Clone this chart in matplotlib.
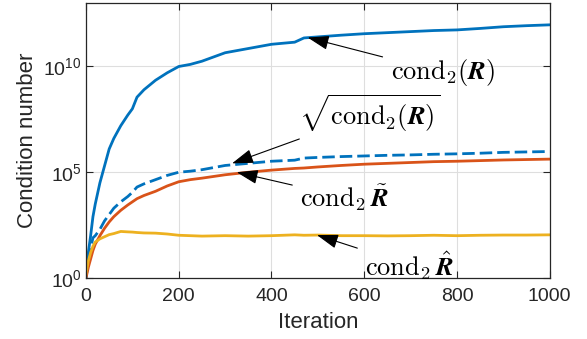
import numpy as np
import matplotlib
matplotlib.use("Agg")
import matplotlib.pyplot as plt
from matplotlib.ticker import FixedLocator, NullLocator

plt.rcParams['font.family'] = ['Liberation Sans', 'DejaVu Sans']
plt.rcParams['mathtext.fontset'] = 'custom'
plt.rcParams['mathtext.rm'] = 'cmr10'
plt.rcParams['mathtext.it'] = 'cmmi10'
plt.rcParams['mathtext.bf'] = 'cmb10'
plt.rcParams['mathtext.bfit'] = 'STIXGeneral:italic:bold'

# iteration samples and log10 of the condition numbers
iters = [0, 5, 10, 15, 20, 30, 40, 50, 60, 75, 90, 100, 110, 125, 150, 175, 200,
         225, 250, 275, 300, 350, 400, 450, 470, 500, 550, 600, 650, 700, 750,
         800, 850, 900, 950, 1000]
log_cond_R = [0, 1.2, 2.0, 2.9, 3.5, 4.5, 5.3, 6.1, 6.6, 7.2, 7.7, 8.0, 8.55, 8.9,
              9.35, 9.7, 10.0, 10.1, 10.25, 10.45, 10.65, 10.85, 11.05, 11.15,
              11.35, 11.4, 11.48, 11.55, 11.6, 11.65, 11.7, 11.73, 11.8, 11.88,
              11.93, 11.97]
log_sqrt_R = [0, 0.8, 1.4, 1.9, 2.0, 2.3, 2.7, 3.0, 3.3, 3.6, 3.85, 4.05, 4.3, 4.45,
              4.65, 4.85, 5.0, 5.05, 5.12, 5.22, 5.32, 5.42, 5.52, 5.57, 5.67, 5.7,
              5.74, 5.77, 5.8, 5.82, 5.85, 5.87, 5.9, 5.94, 5.96, 5.98]
log_tilde_R = [0, 0.5, 0.9, 1.3, 1.6, 2.0, 2.35, 2.65, 2.9, 3.2, 3.45, 3.6, 3.75,
               3.9, 4.1, 4.35, 4.55, 4.65, 4.72, 4.8, 4.88, 5.0, 5.1, 5.18, 5.2,
               5.25, 5.32, 5.38, 5.42, 5.46, 5.5, 5.52, 5.55, 5.58, 5.6, 5.62]
log_hat_R = [0.2, 0.8, 1.2, 1.5, 1.7, 1.85, 1.95, 2.05, 2.1, 2.2, 2.18, 2.17, 2.15,
             2.13, 2.12, 2.08, 2.02, 2.0, 1.98, 1.99, 2.0, 1.98, 2.0, 2.04, 2.02,
             2.03, 2.0, 2.0, 1.99, 2.0, 2.02, 2.0, 2.02, 2.03, 2.03, 2.04]

blue = '#0072BD'
orange = '#D95319'
yellow = '#EDB120'

fig = plt.figure(figsize=(5.87, 3.39), dpi=100)
ax = fig.add_axes([0.1465, 0.18, 0.79, 0.811])

x = np.array(iters)
ax.semilogy(x, 10.0 ** np.array(log_cond_R), color=blue, lw=2)
ax.semilogy(x, 10.0 ** np.array(log_sqrt_R), color=blue, lw=2, ls='--', dashes=(4.5, 1.8))
ax.semilogy(x, 10.0 ** np.array(log_tilde_R), color=orange, lw=2)
ax.semilogy(x, 10.0 ** np.array(log_hat_R), color=yellow, lw=2)

ax.set_xlim(0, 1000)
ax.set_ylim(1, 1e13)
ax.xaxis.set_major_locator(FixedLocator([0, 200, 400, 600, 800, 1000]))
ax.yaxis.set_major_locator(FixedLocator([1, 1e5, 1e10]))
ax.yaxis.set_minor_locator(NullLocator())
ax.tick_params(direction='in', length=5, width=0.8, top=True, right=True,
               labelsize=14, colors='0.15', pad=3)
ax.tick_params(axis='x', pad=7)
for s in ax.spines.values():
    s.set_color('0.15')
    s.set_linewidth(0.9)
ax.grid(True, color='0.87', lw=0.8)
ax.set_axisbelow(True)
ax.set_xlabel('Iteration', fontsize=16, color='0.15', labelpad=5)
ax.set_ylabel('Condition number', fontsize=16, color='0.15', labelpad=4)

arrow = dict(arrowstyle='-|>,head_length=0.6,head_width=0.2', color='k', lw=0.8,
             mutation_scale=22, shrinkA=4, shrinkB=0)
notes = [
    (r'$\mathrm{cond}_2(\boldsymbol{R})$', (478, 10 ** 11.37), (769, 10 ** 9.72)),
    (r'$\sqrt{\mathrm{cond}_2(\boldsymbol{R})}$', (315, 10 ** 5.42), (612, 10 ** 7.78)),
    (r'$\mathrm{cond}_2\,\tilde{\boldsymbol{R}}$', (325, 10 ** 5.0), (558, 10 ** 3.82)),
    (r'$\mathrm{cond}_2\,\hat{\boldsymbol{R}}$', (498, 10 ** 2.03), (698, 10 ** 0.61)),
]
for txt, xy, xyt in notes:
    ax.annotate(txt, xy=xy, xytext=xyt, ha='center', va='center', fontsize=19,
                arrowprops=arrow)

fig.savefig('out.png', dpi=100)
